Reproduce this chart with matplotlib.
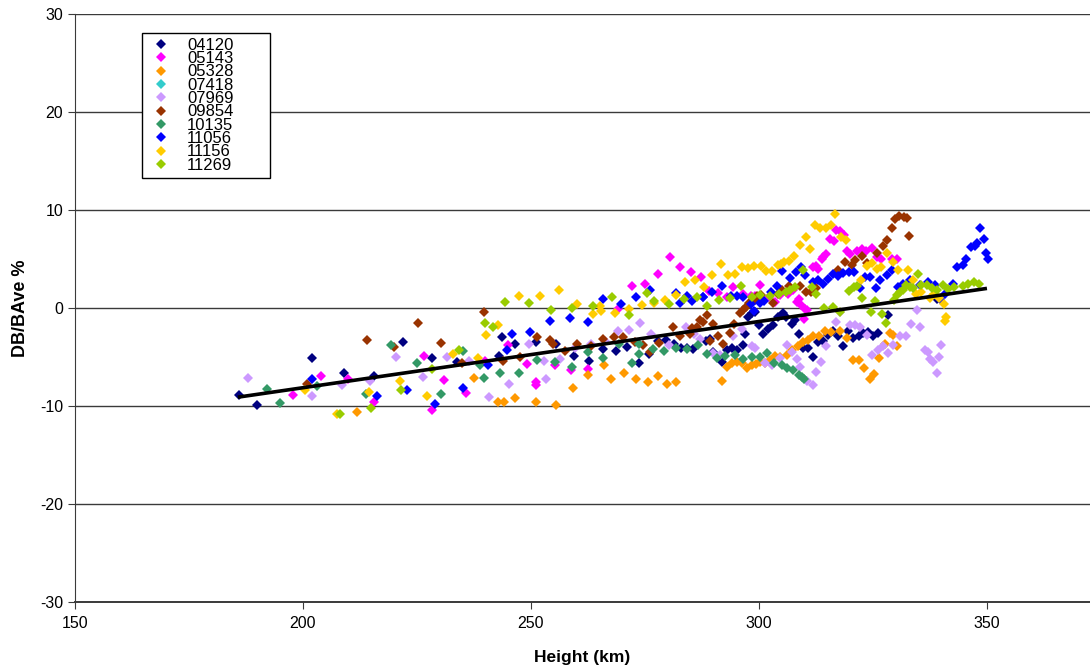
import matplotlib
matplotlib.use('agg')
import matplotlib.pyplot as plt

# series: station id -> (height km, DB/BAve %)
s04120 = [(186.0, -8.9), (190.0, -9.9), (201.9, -5.1), (208.9, -6.6), (215.6, -6.9), (222.0, -3.5),
          (228.2, -5.1), (233.7, -5.5), (242.9, -4.9), (243.6, -3.0), (246.5, -3.7), (251.1, -3.5),
          (255.5, -3.7), (259.4, -4.9), (262.8, -5.4), (265.9, -4.2), (268.7, -4.4), (271.1, -4.0),
          (273.6, -5.6), (275.9, -4.7), (277.8, -3.4), (279.6, -3.3), (281.4, -3.7), (282.9, -4.1),
          (284.3, -4.1), (285.6, -4.2), (288.3, -3.4), (289.2, -3.2), (290.0, -4.5), (291.1, -5.0),
          (291.8, -5.5), (292.9, -4.3), (294.0, -4.1), (295.1, -4.3), (296.6, -3.8), (296.9, -2.7),
          (297.7, -0.9), (298.4, -0.5), (299.1, -0.4), (300.1, -1.7), (300.9, -2.7), (302.0, -2.1),
          (303.1, -1.7), (304.2, -0.9), (305.2, -0.5), (305.9, -0.9), (307.2, -1.6), (307.9, -1.2),
          (308.8, -2.7), (309.7, -4.1), (310.8, -4.1), (311.9, -5.0), (313.0, -3.5), (314.1, -3.4),
          (315.2, -2.8), (316.3, -2.3), (317.4, -2.9), (318.5, -3.9), (319.6, -2.3), (320.7, -3.1),
          (322.0, -2.9), (322.9, -2.6), (324.0, -2.4), (325.1, -2.9), (326.2, -2.6), (328.4, -0.7),
          (339.0, 0.9)]
s05143 = [(197.7, -8.9), (203.9, -6.9), (209.8, -7.2), (215.6, -9.6), (226.5, -4.9), (228.4, -10.4),
          (230.9, -7.3), (235.7, -8.7), (240.0, -5.4), (244.9, -3.8), (249.2, -5.7), (251.2, -7.6),
          (251.2, -7.9), (255.3, -5.8), (258.8, -6.3), (262.5, -6.2), (269.1, -0.1), (272.2, 2.2),
          (275.1, 2.4), (277.9, 3.5), (280.4, 5.2), (282.7, 4.2), (285.2, 3.7), (287.3, 3.2),
          (289.1, 1.7), (291.1, 1.5), (292.9, 1.1), (294.4, 2.1), (296.6, 1.4), (298.2, 1.2),
          (299.2, 1.2), (300.3, 2.3), (302.3, 1.1), (303.5, 0.6), (304.7, 1.3), (306.3, 1.4),
          (307.5, 1.8), (308.4, 0.6), (308.7, 0.9), (309.2, 0.3), (309.8, -1.1), (310.1, -0.1),
          (310.5, -0.2), (311.8, 4.2), (312.6, 4.3), (312.9, 4.0), (313.9, 5.0), (314.1, 5.2),
          (314.8, 5.5), (315.6, 7.0), (316.4, 6.8), (317.0, 8.0), (317.8, 7.9), (318.7, 7.5),
          (319.2, 5.8), (319.9, 5.5), (321.4, 5.8), (322.6, 6.0), (323.5, 5.8), (324.8, 6.1),
          (325.8, 5.2), (326.8, 5.0), (329.2, 5.0), (330.3, 5.0)]
s05328 = [(211.8, -10.6), (237.5, -7.1), (242.8, -9.6), (244.1, -9.6), (246.6, -9.2), (251.2, -9.6),
          (255.4, -9.9), (259.3, -8.2), (262.6, -6.8), (266.1, -5.8), (267.5, -7.2), (270.4, -6.6),
          (273.1, -7.2), (275.6, -7.6), (277.9, -6.9), (279.9, -7.8), (281.9, -7.5), (291.8, -7.4),
          (292.9, -6.0), (294.0, -5.6), (295.1, -5.5), (296.2, -5.6), (297.3, -6.1), (298.4, -5.8),
          (299.3, -5.7), (300.2, -5.5), (301.3, -5.6), (302.4, -5.3), (303.5, -4.9), (304.6, -5.0),
          (306.1, -4.8), (307.3, -4.3), (308.6, -3.9), (309.7, -3.5), (310.8, -3.3), (311.9, -2.9),
          (313.2, -2.9), (314.5, -2.3), (315.9, -2.4), (317.8, -2.3), (319.2, -3.1), (320.7, -5.3),
          (321.9, -5.3), (323.1, -6.1), (324.3, -7.2), (325.2, -6.7), (326.4, -5.1), (327.6, -3.7),
          (328.7, -2.5), (329.3, -2.8), (330.2, -3.9)]
s07418 = []
s07969 = [(188.0, -7.1), (201.9, -9.0), (208.5, -7.9), (214.7, -7.4), (220.5, -5.0), (226.4, -7.0),
          (231.6, -5.0), (236.5, -5.4), (240.9, -9.1), (245.2, -7.8), (249.6, -3.7), (252.8, -5.4),
          (253.4, -7.2), (256.4, -5.2), (259.7, -4.1), (263.2, -3.7), (266.2, -3.4), (269.0, -2.3),
          (271.5, -2.2), (274.0, -1.5), (276.3, -2.7), (280.3, -3.8), (284.0, -1.9), (285.7, -2.7),
          (287.1, -3.2), (290.0, -4.6), (291.4, -4.8), (294.4, -2.9), (296.2, -2.1), (298.4, -3.9),
          (299.1, -4.1), (301.3, -5.6), (302.8, -5.8), (304.6, -5.1), (306.1, -3.8), (307.2, -4.5),
          (308.3, -5.2), (309.0, -6.0), (310.5, -7.4), (311.8, -7.9), (312.6, -6.5), (313.7, -5.5),
          (314.8, -3.9), (316.9, -1.4), (317.8, -0.4), (320.0, -1.7), (321.1, -1.7), (322.1, -1.9),
          (323.6, -2.8), (324.7, -4.8), (326.2, -4.3), (327.3, -3.9), (328.4, -4.6), (329.5, -3.8),
          (330.9, -2.9), (332.2, -2.9), (333.3, -1.6), (334.6, -0.2), (335.3, -1.9), (336.4, -4.3),
          (337.1, -4.5), (337.6, -5.2), (338.2, -5.5), (339.1, -6.6), (339.5, -5.0), (340.0, -3.8)]
s09854 = [(200.9, -7.8), (214.1, -3.3), (219.9, -4.0), (225.2, -1.5), (230.3, -3.6), (234.8, -5.6),
          (239.8, -0.4), (243.9, -5.4), (247.7, -5.0), (251.4, -3.0), (254.2, -3.3), (254.8, -3.7),
          (257.4, -4.4), (260.2, -3.7), (263.2, -3.9), (265.7, -3.2), (268.1, -3.0), (270.2, -3.0),
          (272.8, -3.5), (274.5, -3.8), (276.1, -4.5), (278.0, -3.6), (281.1, -1.9), (282.7, -2.9),
          (284.9, -2.7), (285.3, -2.0), (286.5, -1.9), (287.7, -1.4), (287.1, -1.2), (288.7, -0.7),
          (289.3, -3.4), (290.0, -1.6), (291.1, -2.9), (292.2, -3.7), (293.6, -2.5), (294.6, -1.6),
          (295.8, -0.5), (296.6, -0.2), (297.1, 0.1), (297.9, 0.5), (299.1, 0.8), (299.6, 1.2),
          (300.4, 1.3), (303.1, 0.5), (304.2, 1.4), (305.0, 1.8), (306.6, 2.2), (309.0, 2.2),
          (310.3, 1.6), (311.5, 1.6), (312.6, 2.0), (317.4, 3.9), (318.9, 4.7), (320.3, 4.4),
          (321.0, 4.9), (322.7, 5.3), (323.6, 4.6), (325.8, 5.6), (327.1, 6.3), (328.1, 6.9),
          (329.1, 8.2), (329.8, 9.1), (330.8, 9.4), (331.8, 9.3), (332.4, 9.2), (332.8, 7.3)]
s10135 = [(192.0, -8.3), (195.0, -9.7), (203.0, -8.0), (213.9, -8.8), (219.4, -3.8), (225.1, -5.6),
          (230.3, -8.8), (235.0, -4.4), (238.9, -5.8), (239.8, -7.1), (243.3, -6.6), (247.4, -6.6),
          (251.4, -5.3), (255.3, -5.5), (259.0, -6.0), (262.6, -4.5), (265.9, -5.1), (269.3, -3.7),
          (272.2, -5.6), (273.8, -3.7), (273.8, -4.7), (276.7, -4.2), (279.2, -4.4), (281.8, -4.1),
          (284.3, -4.2), (286.7, -3.8), (288.7, -4.7), (290.7, -5.1), (292.5, -4.9), (294.7, -4.8),
          (296.6, -5.2), (298.4, -5.0), (300.2, -5.0), (301.7, -4.6), (303.3, -5.6), (305.0, -5.8),
          (306.2, -6.1), (307.5, -6.3), (308.8, -6.8), (309.4, -7.0), (309.9, -7.2)]
s11056 = [(202.0, -7.2), (216.3, -9.0), (222.9, -8.4), (229.0, -9.8), (235.2, -8.2), (240.6, -5.8),
          (244.8, -4.3), (245.8, -2.7), (249.7, -2.4), (254.2, -1.3), (258.6, -1.0), (262.6, -1.4),
          (265.9, 0.9), (269.8, 0.4), (273.1, 1.1), (276.2, 1.8), (281.7, 1.5), (282.7, 0.5),
          (284.3, 1.2), (285.3, 0.7), (287.7, 1.1), (287.8, 1.1), (289.8, 1.6), (291.9, 2.2),
          (293.8, 1.2), (295.2, 1.2), (296.6, 1.1), (298.2, 0.4), (298.9, -0.3), (300.2, 0.5),
          (301.1, 0.7), (302.6, 1.6), (304.0, 2.2), (305.0, 3.8), (306.8, 3.1), (308.1, 3.7),
          (309.3, 4.2), (310.2, 3.4), (311.8, 2.7), (312.9, 2.9), (314.1, 2.5), (315.1, 3.0),
          (316.2, 3.5), (317.3, 3.3), (318.5, 3.6), (319.7, 3.7), (320.9, 3.7), (322.1, 2.0),
          (323.2, 3.2), (324.3, 3.2), (325.6, 2.0), (326.5, 2.9), (328.0, 3.4), (329.1, 3.9),
          (330.5, 2.1), (331.6, 2.4), (333.1, 2.9), (335.4, 2.3), (337.0, 2.7), (338.6, 2.3),
          (339.7, 0.9), (340.8, 1.4), (342.6, 2.4), (343.5, 4.2), (344.8, 4.4), (345.5, 5.0),
          (346.6, 6.2), (347.4, 6.3), (347.9, 6.6), (348.5, 8.2), (349.3, 7.0), (349.8, 5.6),
          (350.2, 5.0)]
s11156 = [(200.4, -8.4), (207.5, -10.8), (214.4, -8.6), (221.2, -7.4), (227.3, -9.0), (233.0, -4.7),
          (238.3, -5.1), (240.1, -2.8), (242.8, -1.7), (247.4, 1.2), (251.9, 1.2), (256.1, 1.8),
          (260.0, 0.4), (263.7, -0.6), (265.2, 0.2), (265.3, -0.3), (268.4, -0.5), (271.5, -0.1),
          (274.4, 0.3), (276.9, 0.5), (279.5, 0.8), (281.7, 1.3), (283.8, 2.7), (285.9, 2.9),
          (287.9, 2.1), (289.8, 3.4), (291.7, 4.5), (293.3, 3.4), (294.8, 3.5), (296.3, 4.2),
          (297.7, 4.1), (299.0, 4.3), (300.4, 4.3), (301.6, 3.8), (302.9, 3.8), (304.1, 4.4),
          (304.8, 4.5), (305.6, 4.7), (306.5, 4.8), (307.6, 5.3), (309.1, 6.4), (310.3, 7.2),
          (311.3, 6.0), (312.3, 8.5), (313.4, 8.2), (314.6, 8.2), (315.7, 8.5), (316.7, 9.6),
          (317.9, 7.2), (319.0, 6.9), (322.3, 2.9), (323.6, 4.3), (324.9, 4.6), (325.8, 4.0),
          (326.8, 4.2), (328.1, 5.6), (329.3, 4.7), (330.5, 3.9), (332.6, 3.9), (333.7, 2.9),
          (334.4, 1.4), (335.6, 1.6), (337.5, 1.0), (338.3, 1.4), (339.4, 1.0), (340.6, 0.4),
          (341.1, -0.9), (340.8, -1.3)]
s11269 = [(208.1, -10.8), (215.0, -10.2), (221.6, -8.4), (228.3, -6.2), (234.3, -4.3), (240.0, -1.5),
          (241.7, -1.9), (244.4, 0.6), (249.6, 0.5), (254.5, -0.2), (259.1, 0.0), (263.5, 0.2),
          (267.7, 1.1), (271.4, -0.7), (275.4, 1.5), (276.9, 0.7), (280.3, 0.4), (283.6, 0.9),
          (286.4, 1.1), (288.7, 0.2), (291.2, 0.8), (293.6, 1.0), (296.1, 2.2), (298.4, 1.1),
          (300.3, 1.3), (302.4, 1.2), (304.3, 1.4), (306.0, 1.6), (306.8, 1.8), (308.0, 2.1),
          (309.6, 3.9), (311.6, 2.1), (312.5, 1.4), (314.3, 0.0), (316.2, 0.1), (317.8, -0.4),
          (319.7, 1.7), (320.8, 2.1), (321.6, 2.2), (322.7, 1.0), (324.5, -0.4), (325.4, 0.7),
          (327.0, -0.6), (327.9, -1.5), (329.7, 0.8), (330.3, 1.3), (330.9, 1.6), (331.5, 1.8),
          (332.2, 2.3), (333.1, 2.1), (333.8, 2.0), (334.8, 3.5), (335.5, 2.3), (336.8, 2.3),
          (337.9, 2.0), (339.0, 1.8), (340.4, 2.3), (341.5, 1.9), (342.8, 2.1), (344.8, 2.2),
          (345.9, 2.4), (347.1, 2.7), (348.2, 2.4)]

series_names = ['04120', '05143', '05328', '07418', '07969', '09854', '10135', '11056', '11156', '11269']
series_data = [s04120, s05143, s05328, s07418, s07969, s09854, s10135, s11056, s11156, s11269]
series_colors = ['#000080', '#FF00FF', '#FF9900', '#33CCCC', '#CC99FF',
                 '#993300', '#339966', '#0000FF', '#FFCC00', '#99CC00']

# linear trend line end points
trend_x = [185.7, 350.0]
trend_y = [-9.1, 2.0]

plt.rcParams['font.family'] = ['Liberation Sans', 'DejaVu Sans']
plt.rcParams['axes.unicode_minus'] = False

fig = plt.figure(figsize=(10.9, 6.71), dpi=100)
ax = fig.add_axes([75 / 1090, 69 / 671, 1015 / 1090, 588 / 671])

for name, pts, color in zip(series_names, series_data, series_colors):
    xs = [p[0] for p in pts]
    ys = [p[1] for p in pts]
    ax.plot(xs, ys, linestyle='none', marker='D', ms=4.8, mew=0,
            color=color, label=name)

ax.plot(trend_x, trend_y, color='black', lw=2.6, solid_capstyle='butt')

ax.set_xlim(150, 372.6)
ax.set_ylim(-30, 30)
ax.set_xticks([150, 200, 250, 300, 350])
ax.set_yticks(range(-30, 31, 10))
ax.grid(axis='y', color='#3a3a3a', lw=1)
ax.set_axisbelow(True)
for side in ['top', 'right']:
    ax.spines[side].set_visible(False)
ax.spines['left'].set_color('#3a3a3a')
ax.spines['bottom'].set_color('#3a3a3a')
ax.spines['bottom'].set_linewidth(1.4)
ax.tick_params(axis='both', labelsize=11.5, length=5, color='#3a3a3a', direction='out')
ax.tick_params(axis='x', pad=5)

ax.set_xlabel('Height (km)', fontsize=12.5, fontweight='bold', labelpad=14)
ax.set_ylabel('DB/BAve %', fontsize=13, fontweight='bold', labelpad=8)

# legend box: left edge 0.066, top 0.968, width 0.126 of the axes
leg = ax.legend(loc='upper left', bbox_to_anchor=(0.066, 0.718, 0.126, 0.25),
                mode='expand', fontsize=12,
                frameon=True, fancybox=False, edgecolor='black', framealpha=1,
                labelspacing=-0.1, handletextpad=0.7, borderpad=0.3,
                handlelength=1.7, borderaxespad=0)
leg.get_frame().set_linewidth(1.0)

fig.savefig('out.png', dpi=100)
